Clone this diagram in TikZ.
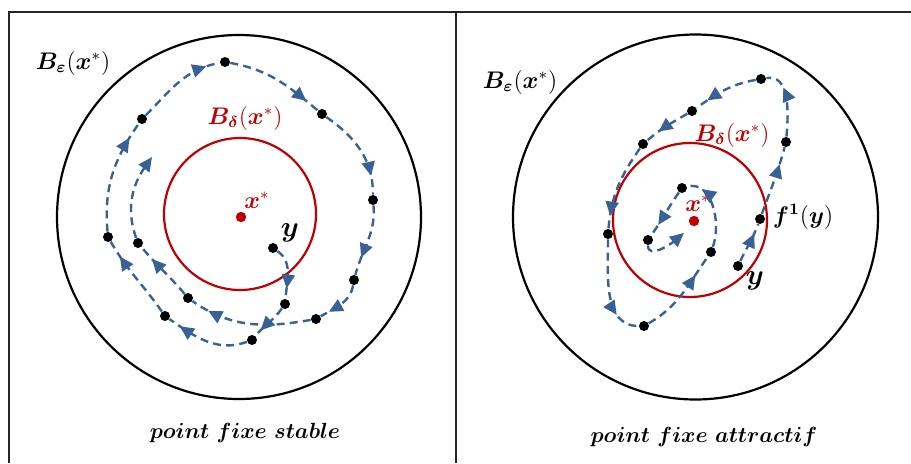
\documentclass[tikz,border=0pt]{standalone}
\usepackage{amsmath, amssymb}
\usepackage{bm}
\usepackage{xcolor}
\usetikzlibrary{arrows.meta, decorations.markings}
\definecolor{trajblue}{RGB}{56, 98, 150}
\definecolor{ballred}{RGB}{192, 0, 0}

\tikzset{
  orbitpt/.style={circle, fill=black, inner sep=0pt, minimum size=5pt},
  centrept/.style={circle, fill=ballred, inner sep=0pt, minimum size=5.2pt},
  traj/.style={trajblue, line width=1.2pt, dash pattern=on 4pt off 2.6pt},
  flow/.style={postaction={decorate}, decoration={markings,
      mark=at position #1 with {\arrow{Triangle[length=7pt,width=6.5pt]}}}},
  flow/.default=0.8,
  endtip/.style={-{Triangle[length=7pt,width=6.5pt]}},
  lbl/.style={font=\fontsize{11.5}{13}\selectfont},
}

\begin{document}
\begin{tikzpicture}[x=0.5pt, y=0.5pt]
    \useasboundingbox (0,0) rectangle (911,463);
    % frame
    \draw[black!85, line width=1pt] (9,0) -- (9,451) -- (911,451);
    \draw[black!85, line width=1pt] (456,0) -- (456,451);

    % ---- left panel: stable fixed point
    \draw[line width=1.1pt] (239,246) circle (182);
    \draw[ballred, line width=1.1pt] (240,249) circle (76);
    \node[centrept] (xsL) at (241,246) {};
    \node[lbl] (BeL) at (73,400) {$\bm{B}_{\bm{\varepsilon}}(\bm{x}^{*})$};
    \node[lbl, ballred] (BdL) at (245,345) {$\bm{B}_{\bm{\delta}}(\bm{x}^{*})$};
    \node[lbl, ballred] (xlL) at (257,263) {$\bm{x}^{*}$};
    \node[font=\fontsize{15}{17}\selectfont] (ylL) at (290,230) {$\bm{y}$};
    \node[font=\fontsize{11.3}{14}\selectfont] (capL) at (245,30) {$\bm{point\ fixe\ stable}$};

    \foreach \n/\x/\y in {a0/273/215, a1/285/159, a2/252/123, a3/165/147,
        a4/108/226, a5/142/344, a6/225/401, a7/322/349, a8/373/263,
        a9/354/183, a10/316/144, a11/188/165, a12/138/220}
        \node[orbitpt] (\n) at (\x,\y) {};
    \coordinate (aend) at (152,306);

    \draw[traj, flow=0.8]  (a0)  to[out=-35, in=85]   (a1);
    \draw[traj, flow=0.8]  (a1)  to[out=-125, in=50]  (a2);
    \draw[traj, flow=0.85] (a2)  to[out=200, in=-35]  (a3);
    \draw[traj, flow=0.8]  (a3)  to[out=125, in=-60]  (a4);
    \draw[traj, flow=0.85] (a4)  to[out=95, in=-125]  (a5);
    \draw[traj, flow=0.85] (a5)  to[out=45, in=190]   (a6);
    \draw[traj, flow=0.85] (a6)  to[out=-10, in=140]  (a7);
    \draw[traj, flow=0.8]  (a7)  to[out=-35, in=90]   (a8);
    \draw[traj, flow=0.75] (a8)  to[out=-85, in=75]   (a9);
    \draw[traj, flow=0.8]  (a9)  to[out=-100, in=30]  (a10);
    \draw[traj, flow=0.85] (a10) to[out=190, in=-35]  (a11);
    \draw[traj, flow=0.75] (a11) to[out=130, in=-50]  (a12);
    \draw[traj, endtip]    (a12) to[out=110, in=-125] (aend);

    % ---- right panel: attractive fixed point
    \draw[line width=1.1pt] (695.5,246) circle (182.5);
    \draw[ballred, line width=1.1pt] (690,243) circle (77);
    \node[centrept] (xsR) at (694,242) {};
    \node[lbl] (BeR) at (520,381) {$\bm{B}_{\bm{\varepsilon}}(\bm{x}^{*})$};
    \node[lbl, ballred] (BdR) at (732,328) {$\bm{B}_{\bm{\delta}}(\bm{x}^{*})$};
    \node[lbl, ballred] (xlR) at (698,260) {$\bm{x}^{*}$};
    \node[lbl] (fyR) at (803,246) {$\bm{f}^{\mathbf{1}}(\bm{y})$};
    \node[font=\fontsize{15}{17}\selectfont] (ylR) at (755,182) {$\bm{y}$};
    \node[font=\fontsize{11.3}{14}\selectfont] (capR) at (704,26) {$\bm{point\ fixe\ attractif}$};

    \foreach \n/\x/\y in {b0/738/197, b1/760/244, b2/786/321, b3/761/384,
        b4/692/352, b5/643/319, b6/608/229, b7/644/137, b8/711/211,
        b9/682/275, b10/648/223}
        \node[orbitpt] (\n) at (\x,\y) {};
    \coordinate (bend) at (684,230);

    \draw[traj, flow=0.75] (b0)  to[out=65, in=-110]  (b1);
    \draw[traj, flow=0.75] (b1)  to[out=70, in=-105]  (b2);
    \draw[traj, flow=0.7]  (b2)  to[out=85, in=10]    (b3);
    \draw[traj, flow=0.8]  (b3)  to[out=190, in=35]   (b4);
    \draw[traj, flow=0.7]  (b4)  to[out=210, in=40]   (b5);
    \draw[traj, flow=0.85] (b5)  to[out=235, in=85]   (b6);
    \draw[traj, flow=0.75] (b6)  to[out=-90, in=180]  (b7);
    \draw[traj, flow=0.75] (b7)  to[out=30, in=-125]  (b8);
    \draw[traj, flow=0.8]  (b8)  to[out=70, in=15]    (b9);
    \draw[traj, flow=0.75] (b9)  to[out=235, in=55]   (b10);
    \draw[traj, endtip]    (b10) to[out=-90, in=-140] (bend);
\end{tikzpicture}
\end{document}
